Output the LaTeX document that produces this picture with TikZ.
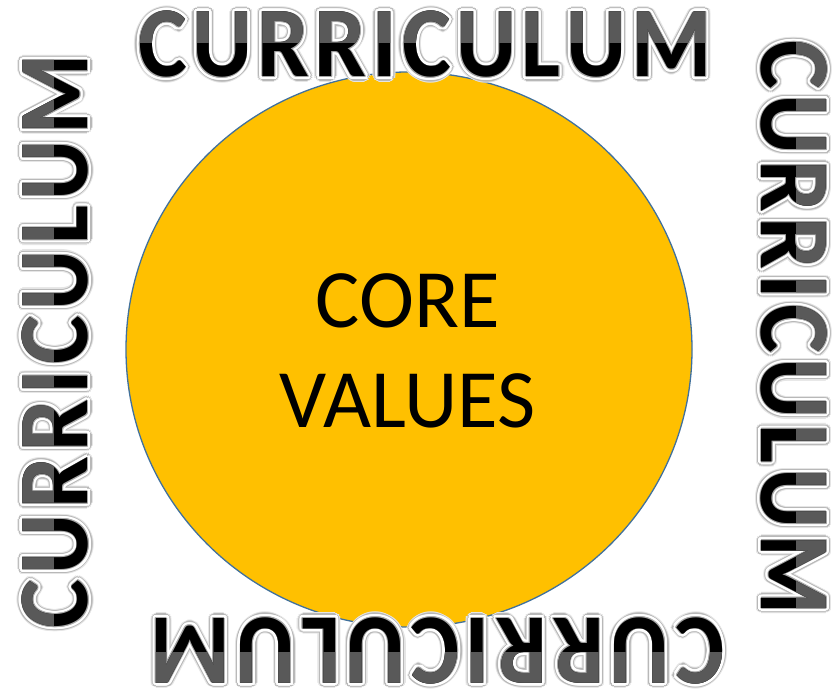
\documentclass[tikz,border=0pt]{standalone}
\usepackage{fontspec}
\setmainfont{Carlito}
\usepackage{graphicx}
\definecolor{corefill}{HTML}{FFC000}
\definecolor{coreline}{HTML}{41719C}
\definecolor{topgray}{HTML}{595959}
\newlength\cwnat
\newlength\ckern
\newcommand{\currfont}{\fontsize{100}{100}\selectfont\bfseries}
\newcommand{\cxs}{0.92}
\newcommand{\cl}[1]{\scalebox{\cxs}[1]{#1}}
\newcommand{\currplain}{\cl{C}\cl{U}\cl{R}\cl{R}\cl{I}\cl{C}\cl{U}\cl{L}\cl{U}\cl{M}}
\AtBeginDocument{%
 \settowidth\cwnat{\currfont\currplain}%
 \setlength\ckern{\dimexpr(574pt-\cwnat)/9\relax}}
\newcommand{\currword}{{\currfont\cl{C}\kern\ckern\cl{U}\kern\ckern\cl{R}\kern\ckern\cl{R}\kern\ckern\cl{I}\kern\ckern\cl{C}\kern\ckern\cl{U}\kern\ckern\cl{L}\kern\ckern\cl{U}\kern\ckern\cl{M}}}
\newcommand{\currblock}[4]{%
\begin{scope}[shift={(#2,#3)}, rotate=#4, transform shape]
 \foreach \a in {0,22.5,...,337.5} \node[text=black!10, inner sep=0pt] at (\a:5.3pt) {\currword};
 \foreach \a in {0,22.5,...,337.5} \node[text=black!28, inner sep=0pt] at (\a:4.2pt) {\currword};
 \foreach \a in {0,22.5,...,337.5} \node[text=white, inner sep=0pt] at (\a:3pt) {\currword};
 \foreach \a in {0,22.5,...,337.5} \node[text=white, inner sep=0pt] at (\a:1.8pt) {\currword};
 \foreach \a in {0,45,...,315} \node[text=black!35, inner sep=0pt] at (\a:0.8pt) {\currword};
 \node[inner sep=0pt, text=black] (#1) at (0,0) {\currword};
 \begin{scope}
  \clip (-330pt,2pt) rectangle (330pt,60pt);
  \node[inner sep=0pt, text=topgray] (#1g) at (0,0) {\currword};
 \end{scope}
\end{scope}}
\begin{document}
\begin{tikzpicture}[x=1pt,y=1pt]
\fill[white] (0,0) rectangle (838,692);
\useasboundingbox (0,0) rectangle (838,692);
\draw[fill=corefill, draw=coreline, line width=1.3pt] (409,342.5) ellipse [x radius=283, y radius=277.5];
\node[anchor=base, inner sep=0pt, font=\fontsize{83}{100}\selectfont] (core) at (408,364) {CORE};
\node[anchor=base, inner sep=0pt, font=\fontsize{83}{100}\selectfont] (values) at (407.5,264) {VALUES};
\currblock{ctop}{425}{647.5}{0}
\currblock{cleft}{55.5}{350.5}{90}
\currblock{cright}{794}{364.5}{-90}
\currblock{cbottom}{437}{41.5}{180}
\end{tikzpicture}
\end{document}
